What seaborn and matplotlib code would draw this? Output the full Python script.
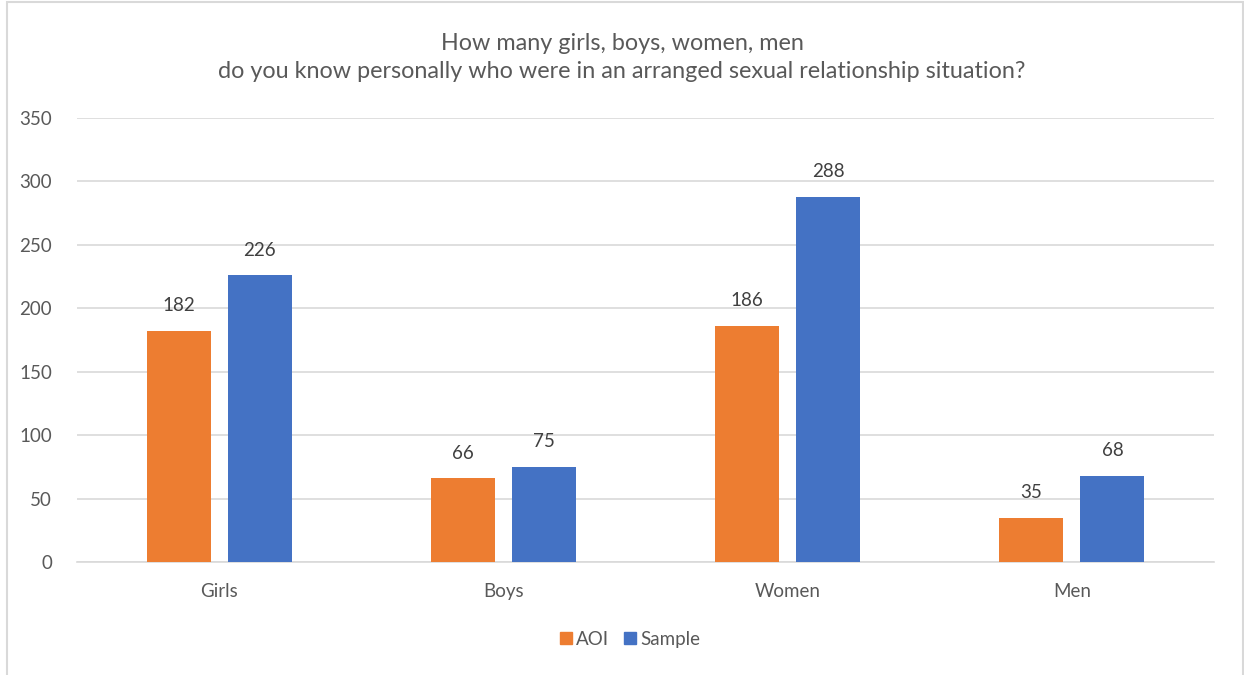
import matplotlib
matplotlib.use("Agg")
import matplotlib.pyplot as plt
from matplotlib.patches import Rectangle
from matplotlib.lines import Line2D
import seaborn as sns
import pandas as pd

categories = ["Girls", "Boys", "Women", "Men"]
aoi = [182, 66, 186, 35]
sample = [226, 75, 288, 68]
series_names = ["AOI", "Sample"]
yticks = [0, 50, 100, 150, 200, 250, 300, 350]
title = ("How many girls, boys, women, men\n"
         "do you know personally who were in an arranged sexual relationship situation?")

colors = {"AOI": "#ED7D31", "Sample": "#4472C4"}
text_color = "#595959"
grid_color = "#D9D9D9"

df = pd.DataFrame({
    "category": categories * 2,
    "series": [series_names[0]] * len(categories) + [series_names[1]] * len(categories),
    "value": aoi + sample,
})

sns.set_theme(style="white")
plt.rcParams["font.family"] = ["Lato", "DejaVu Sans"]

fig = plt.figure(figsize=(12.44, 6.75), dpi=100)
ax = fig.add_axes([0.0619, 0.1674, 0.9140, 0.6578])

sns.barplot(data=df, x="category", y="value", hue="series", order=categories,
            hue_order=series_names, palette=colors, width=0.57, gap=0.21,
            saturation=1, errorbar=None, ax=ax, legend=False, zorder=3,
            linewidth=0)

ax.set_ylim(0, 350)
ax.set_xlim(-0.5, len(categories) - 0.5)
ax.set_yticks(yticks)
ax.yaxis.grid(True, color=grid_color, linewidth=1.2, zorder=0)
ax.set_axisbelow(True)
for s in ["top", "right", "left"]:
    ax.spines[s].set_visible(False)
ax.spines["bottom"].set_color(grid_color)
ax.spines["bottom"].set_linewidth(1.2)
ax.tick_params(axis="y", length=0, pad=18, labelsize=13.5, labelcolor=text_color)
ax.tick_params(axis="x", length=0, pad=15, labelsize=13.5, labelcolor=text_color)
ax.set_xlabel("")
ax.set_ylabel("")

for container in ax.containers:
    ax.bar_label(container, fmt="%d", padding=12, fontsize=13.5, color="#404040")

fig.text(0.5, 0.915, title, ha="center", va="center", fontsize=16.8,
         color=text_color, linespacing=1.38)

handles = [Line2D([], [], marker="s", linestyle="none", markersize=8,
                  markerfacecolor=colors[n], markeredgecolor=colors[n])
           for n in series_names]
fig.legend(handles, series_names, loc="center", bbox_to_anchor=(0.505, 0.053),
           ncol=2, frameon=False, fontsize=13.5, handletextpad=0.05,
           columnspacing=0.6, handlelength=1.0, labelcolor=text_color)

fig.patches.append(Rectangle((7 / 1244, -0.05), 1236 / 1244, 1.05 - 2 / 675,
                             transform=fig.transFigure, fill=False,
                             edgecolor=grid_color, linewidth=1.5))

fig.savefig("out.png", dpi=100, facecolor="white")
